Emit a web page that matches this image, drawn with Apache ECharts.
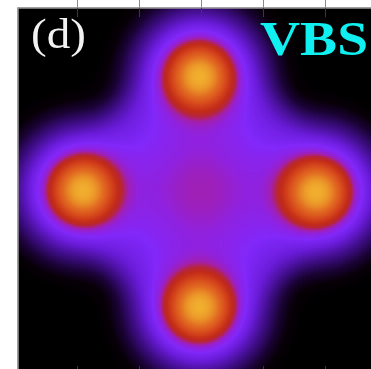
<!DOCTYPE html>
<html>
<head>
<meta charset="utf-8">
<script src="https://cdn.jsdelivr.net/npm/echarts@6/dist/echarts.min.js"></script>
<style>
  html, body { margin: 0; padding: 0; background: #ffffff; }
  #chart { width: 371px; height: 369px; }
</style>
</head>
<body>
<div id="chart"></div>
<script>
// Four bright lobes (top, left, right, bottom) in axis units
const blobX = [-0.02, -1.90, 1.87, -0.02];
const blobY = [1.855, 0.016, -0.016, -1.87];
const blobPeak = [1.0, 1.0, 1.0, 1.0];
const blobHalo = [0.15, 0.15, 0.15, 0.15];
const coreSigma = 0.29;
const haloSigma = 0.6;

// Diffuse central cloud: [bump, flat plateau]
const centreAmp = [0.12, 0.07];
const centreWidth = [0.645, 1.774];

// Axis range and ticks
const axisHalf = 2.95;
const tickValues = [-2, -1, 0, 1, 2];

// Colour ramp on log10 density
const rampStops = [
  [-2.5, '#000000'],
  [-2.1, '#080008'],
  [-1.8, '#1c0438'],
  [-1.5, '#400e88'],
  [-1.2, '#6a1cd8'],
  [-0.95, '#8228fa'],
  [-0.8, '#9022e0'],
  [-0.7, '#a220b0'],
  [-0.6, '#b82638'],
  [-0.5, '#c22c18'],
  [-0.35, '#d4441c'],
  [-0.15, '#e26c22'],
  [0.0, '#ec9c2a'],
  [0.1, '#f4b832']
];

const N = 183;
const step = 2 * axisHalf / N;
const cells = [];
for (let i = 0; i < N; i++) cells.push(i);

function density(x, y) {
  let f = 0;
  for (let k = 0; k < blobX.length; k++) {
    const dx = x - blobX[k], dy = y - blobY[k];
    const r2 = dx * dx + dy * dy;
    f += blobPeak[k] * Math.exp(-r2 / (2 * coreSigma * coreSigma));
    f += blobHalo[k] * Math.exp(-r2 / (2 * haloSigma * haloSigma));
  }
  const rc2 = x * x + y * y;
  f += centreAmp[0] * Math.exp(-rc2 / (2 * centreWidth[0] * centreWidth[0]));
  f += centreAmp[1] * Math.exp(-Math.pow(rc2 / (centreWidth[1] * centreWidth[1]), 3));
  return f;
}

const vmin = rampStops[0][0], vmax = rampStops[rampStops.length - 1][0];
const data = [];
for (let i = 0; i < N; i++) {
  const x = -axisHalf + (i + 0.5) * step;
  for (let j = 0; j < N; j++) {
    const y = -axisHalf + (j + 0.5) * step;
    const v = Math.max(vmin, Math.min(vmax, Math.log10(density(x, y))));
    data.push([i, j, v]);
  }
}

function hex(c) { return [1, 3, 5].map(p => parseInt(c.substr(p, 2), 16)); }
function sampleRamp(v) {
  for (let s = 1; s < rampStops.length; s++) {
    if (v <= rampStops[s][0]) {
      const [v0, c0] = rampStops[s - 1], [v1, c1] = rampStops[s];
      const t = (v - v0) / (v1 - v0);
      const a = hex(c0), b = hex(c1);
      return 'rgb(' + a.map((q, n) => Math.round(q + (b[n] - q) * t)).join(',') + ')';
    }
  }
  return rampStops[rampStops.length - 1][1];
}
const palette = [];
for (let k = 0; k <= 130; k++) palette.push(sampleRamp(vmin + (vmax - vmin) * k / 130));

const frame = { show: true, onZero: false, lineStyle: { color: '#9a9a9a', width: 1.5 } };
const noLine = { show: false, onZero: false };

const chart = echarts.init(document.getElementById('chart'), null, { renderer: 'canvas' });
chart.setOption({
  animation: false,
  backgroundColor: '#ffffff',
  grid: { left: 18, top: 8, width: 366, height: 366, containLabel: false, outerBoundsMode: 'none' },
  xAxis: [
    { type: 'category', data: cells, show: false, position: 'bottom' },
    { type: 'value', position: 'top', min: -axisHalf, max: axisHalf, z: 10,
      axisLine: frame,
      axisTick: { show: true, inside: false, length: 8, customValues: tickValues, lineStyle: { color: '#8a8a8a' } },
      axisLabel: { show: false }, splitLine: { show: false } },
    { type: 'value', position: 'top', min: -axisHalf, max: axisHalf, z: 10,
      axisLine: noLine,
      axisTick: { show: true, inside: true, length: 9, customValues: tickValues, lineStyle: { color: '#3a3a3a' } },
      axisLabel: { show: false }, splitLine: { show: false } },
    { type: 'value', position: 'bottom', min: -axisHalf, max: axisHalf, z: 10,
      axisLine: noLine,
      axisTick: { show: true, inside: true, length: 8, customValues: tickValues, lineStyle: { color: '#3a3a3a' } },
      axisLabel: { show: false }, splitLine: { show: false } }
  ],
  yAxis: [
    { type: 'category', data: cells, show: false },
    { type: 'value', position: 'left', min: -axisHalf, max: axisHalf, z: 10,
      axisLine: frame, axisTick: { show: false }, axisLabel: { show: false }, splitLine: { show: false } }
  ],
  visualMap: {
    type: 'continuous', show: false, dimension: 2, seriesIndex: 0,
    min: vmin, max: vmax, inRange: { color: palette }
  },
  series: [{
    type: 'heatmap', xAxisIndex: 0, yAxisIndex: 0, data: data,
    progressive: 0, emphasis: { disabled: true }, silent: true,
    itemStyle: { borderWidth: 0 }
  }],
  graphic: [
    { type: 'text', x: 31, y: 37, scaleX: 1.12, z: 100,
      style: { text: '(d)', x: 0, y: 0, font: '42px "Liberation Serif"', fill: '#f2f2f2',
               align: 'left', verticalAlign: 'middle', textAlign: 'left', textVerticalAlign: 'middle' } },
    { type: 'text', x: 260, y: 42.8, scaleX: 1.157, z: 100,
      style: { text: 'VBS', x: 0, y: 0, font: 'bold 48px "Liberation Serif"', fill: '#10f0f0',
               align: 'left', verticalAlign: 'middle', textAlign: 'left', textVerticalAlign: 'middle' } }
  ]
});
</script>
</body>
</html>
